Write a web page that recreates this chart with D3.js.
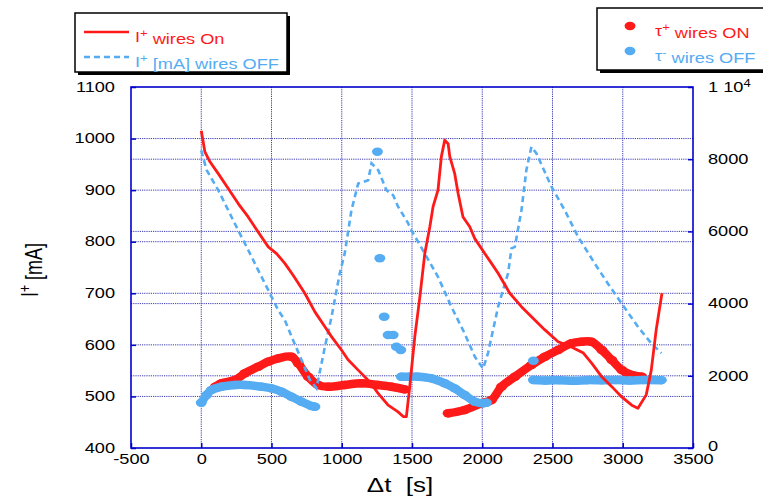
<!DOCTYPE html>
<html><head><meta charset="utf-8">
<script src="https://cdn.jsdelivr.net/npm/d3@7"></script>
<style>
body{margin:0;background:#fff;}
svg{display:block;}
text{font-family:"Liberation Sans",Arial,Helvetica,sans-serif;}
</style></head>
<body>
<svg id="chart" width="763" height="496"></svg>
<script>
// ---------- DATA ----------
const xTicks = [-500, 0, 500, 1000, 1500, 2000, 2500, 3000, 3500];
const leftTicks = [400, 500, 600, 700, 800, 900, 1000, 1100];
const rightTicks = [0, 2000, 4000, 6000, 8000, 10000];

// I+ wires On (red solid, left axis)
const iOn = [[0,1015],[26,974],[62,955],[121,932],[192,903],[263,874],[334,848],[405,819],[477,790],[536,777],[595,758],[654,735],[737,700],[809,664],[880,635],[927,616],[998,590],[1045,571],[1117,551],[1200,528],[1259,506],[1330,483],[1401,470],[1437,461],[1460,461],[1484,519],[1520,616],[1556,693],[1591,777],[1627,829],[1650,868],[1685,900],[1709,965],[1733,997],[1757,990],[1769,965],[1804,932],[1828,894],[1863,848],[1911,829],[1947,806],[2018,777],[2066,758],[2113,739],[2196,700],[2279,674],[2374,648],[2446,629],[2540,606],[2635,596],[2720,584],[2780,564],[2851,538],[2922,519],[2993,499],[3064,483],[3108,477],[3167,503],[3203,551],[3238,629],[3279,700]];

// I+ [mA] wires OFF (blue dashed, left axis)
const iOff = [[0,977],[38,939],[121,900],[192,861],[263,822],[334,784],[405,745],[477,706],[548,667],[595,648],[654,609],[713,571],[773,532],[820,516],[880,596],[927,654],[986,739],[1021,777],[1069,861],[1117,913],[1188,919],[1212,952],[1259,939],[1318,900],[1366,890],[1401,868],[1472,836],[1496,822],[1591,777],[1685,732],[1780,674],[1875,622],[1947,577],[2006,554],[2041,584],[2113,674],[2184,739],[2208,787],[2232,790],[2279,861],[2314,939],[2350,984],[2386,971],[2492,907],[2587,861],[2681,810],[2800,758],[2894,719],[2993,680],[3108,635],[3203,603],[3275,584]];

// tau+ wires ON (red dots, right axis)
const tauOnA = [[100,1700],[145,1792],[240,1884],[311,2069],[405,2252],[477,2391],[548,2484],[642,2529],[690,2346],[761,1975],[832,1745],[903,1698],[1021,1745],[1140,1792],[1259,1745],[1354,1698],[1448,1625]];
const tauOnB = [[1757,961],[1875,1053],[1994,1238],[2066,1330],[2137,1698],[2232,1975],[2350,2299],[2446,2529],[2540,2715],[2635,2900],[2706,2945],[2777,2945],[2851,2715],[2922,2438],[2993,2161],[3064,2022],[3136,1975]];

// tau- wires OFF (blue dots, right axis)
const tauOffA = [[0,1255],[38,1468],[73,1607],[145,1698],[240,1745],[311,1745],[429,1698],[500,1652],[571,1560],[642,1421],[713,1283],[785,1163],[809,1144]];
const tauOffB = [[1424,1975],[1480,1975],[1543,1975],[1638,1930],[1733,1792],[1804,1652],[1875,1468],[1947,1283],[2006,1238],[2030,1255]];
const tauOffC = [[2364,1884],[2450,1870],[2550,1880],[2650,1860],[2750,1880],[2850,1875],[2950,1885],[3050,1870],[3150,1885],[3275,1880]];
const tauOffSingles = [[1254,8208],[1271,5255],[1302,3637],[1330,3130],[1366,3130],[1389,2806],[1420,2715],[2364,2418]];

// ---------- LAYOUT ----------
const RED = "#ff1a1a", BLUE = "#55acf2", AXIS = "#0000cc", GRID = "#1a1aa8";
const SX = 1.3; // horizontal stretch of the original picture
const svg = d3.select("#chart");
const L = 131, R = 693, T = 87, B = 448;

const x = d3.scaleLinear().domain([-500, 3500]).range([L, R]);
const yL = d3.scaleLinear().domain([400, 1100]).range([B, T]);
const yR = d3.scaleLinear().domain([0, 10000]).range([B, T]);
const fmt = d => String(d);

// gridlines
const grid = svg.append("g").attr("stroke", GRID).attr("stroke-width", 1).attr("stroke-dasharray", "1.2,1").attr("opacity", 0.85);
grid.selectAll(".vx").data(xTicks.slice(1, -1)).enter().append("line")
  .attr("x1", d => x(d)).attr("x2", d => x(d)).attr("y1", T).attr("y2", B);
grid.selectAll(".hl").data(leftTicks.slice(1, -1)).enter().append("line")
  .attr("x1", L).attr("x2", R).attr("y1", d => yL(d)).attr("y2", d => yL(d));
grid.selectAll(".hr").data(rightTicks.slice(1, -1)).enter().append("line")
  .attr("x1", L).attr("x2", R).attr("y1", d => yR(d)).attr("y2", d => yR(d));

// series
const lineL = d3.line().x(d => x(d[0])).y(d => yL(d[1]));
const lineR = d3.line().x(d => x(d[0])).y(d => yR(d[1])).curve(d3.curveCatmullRom);

function band(data, color) {
  svg.append("path").datum(data).attr("d", lineR).attr("fill", "none")
    .attr("stroke", color).attr("stroke-width", 8.5)
    .attr("stroke-linecap", "round").attr("stroke-linejoin", "round");
  dots(data, color);
}
function dots(data, color) {
  svg.append("g").selectAll("ellipse").data(data).enter().append("ellipse")
    .attr("cx", d => x(d[0])).attr("cy", d => yR(d[1]))
    .attr("rx", 4.2 * SX).attr("ry", 4.2).attr("fill", color);
}
band(tauOnA, RED);
band(tauOnB, RED);
band(tauOffA, BLUE);
band(tauOffB, BLUE);
band(tauOffC, BLUE);
dots(tauOffSingles, BLUE);

svg.append("path").datum(iOff).attr("d", lineL).attr("fill", "none")
  .attr("stroke", BLUE).attr("stroke-width", 2.6).attr("stroke-dasharray", "6,4");
svg.append("path").datum(iOn).attr("d", lineL).attr("fill", "none")
  .attr("stroke", RED).attr("stroke-width", 2.8).attr("stroke-linejoin", "round");

// axes
function styleAxis(g) {
  g.select(".domain").remove();
  g.selectAll(".tick line").attr("stroke", AXIS).attr("stroke-width", 1.5);
  g.selectAll("text").attr("fill", "#000").attr("font-size", 14)
    .attr("font-family", '"Liberation Sans",Arial,Helvetica,sans-serif');
}
const axL = svg.append("g").attr("transform", `translate(${L},0)`)
  .call(d3.axisLeft(yL).tickValues(leftTicks).tickSize(-5).tickFormat(fmt));
styleAxis(axL);
axL.selectAll("text").attr("x", null).attr("dy", "0.3em")
  .attr("transform", `translate(-16,0) scale(${SX},1)`).attr("text-anchor", "end");

const axB = svg.append("g").attr("transform", `translate(0,${B})`)
  .call(d3.axisBottom(x).tickValues(xTicks).tickSize(-5).tickFormat(fmt));
styleAxis(axB);
axB.selectAll("text").attr("y", 0).attr("dy", "0")
  .attr("transform", `translate(0,16) scale(${SX},1)`);

const axR = svg.append("g").attr("transform", `translate(${R},0)`)
  .call(d3.axisRight(yR).tickValues(rightTicks).tickSize(-5).tickFormat(d => d === 10000 ? "1 10" : fmt(d)));
styleAxis(axR);
axR.selectAll("text").attr("x", null).attr("dy", "0.3em")
  .attr("transform", d => `translate(15,${d === 0 ? -2 : 0}) scale(${SX},1)`).attr("text-anchor", "start");
axR.selectAll(".tick").filter(d => d === 10000).select("text")
  .append("tspan").attr("dy", "-0.45em").attr("font-size", 10).text("4");

// frame
svg.append("rect").attr("x", L).attr("y", T).attr("width", R - L).attr("height", B - T)
  .attr("fill", "none").attr("stroke", AXIS).attr("stroke-width", 1.6);

// axis titles
const yt = svg.append("text").attr("transform", `translate(38,270) scale(${SX},1) rotate(-90)`)
  .attr("text-anchor", "middle").attr("font-size", 18).attr("fill", "#000");
yt.append("tspan").text("I");
yt.append("tspan").attr("dy", "-0.5em").attr("font-size", 12).text("+");
yt.append("tspan").attr("dy", "0.5em").text(" [mA]");

svg.append("text").attr("transform", `translate(400,492) scale(${SX},1)`)
  .attr("text-anchor", "middle").attr("font-size", 20).attr("fill", "#000")
  .attr("xml:space", "preserve").style("white-space", "pre").text("\u0394t  [s]");

// legends
function box(x0, y0, w, h) {
  svg.append("rect").attr("x", x0 + 3).attr("y", y0 + 3).attr("width", w).attr("height", h).attr("fill", "#000");
  svg.append("rect").attr("x", x0).attr("y", y0).attr("width", w).attr("height", h)
    .attr("fill", "#fff").attr("stroke", "#000").attr("stroke-width", 1.5);
}
function legText(x0, y0, color, main, sup, rest) {
  const t = svg.append("text").attr("transform", `translate(${x0},${y0}) scale(${SX},1)`)
    .attr("font-size", 14).attr("fill", color);
  t.append("tspan").text(main);
  t.append("tspan").attr("dy", "-0.5em").attr("font-size", 10).text(sup);
  t.append("tspan").attr("dy", "0.5em").text(rest);
}
box(75, 13, 212, 59);
svg.append("line").attr("x1", 84).attr("x2", 129).attr("y1", 32).attr("y2", 32).attr("stroke", RED).attr("stroke-width", 2.5);
legText(135, 42, RED, "I", "+", " wires On");
svg.append("line").attr("x1", 84).attr("x2", 129).attr("y1", 57).attr("y2", 57).attr("stroke", BLUE).attr("stroke-width", 2.5).attr("stroke-dasharray", "6,4");
legText(135, 67, BLUE, "I", "+", " [mA] wires OFF");

box(597, 8, 180, 62);
svg.append("ellipse").attr("cx", 630).attr("cy", 26).attr("rx", 4.2 * SX).attr("ry", 4.2).attr("fill", RED);
legText(655, 36, RED, "\u03c4", "+", " wires ON");
svg.append("ellipse").attr("cx", 630).attr("cy", 51).attr("rx", 4.2 * SX).attr("ry", 4.2).attr("fill", BLUE);
legText(655, 61, BLUE, "\u03c4", "-", " wires OFF");
</script>
</body></html>
